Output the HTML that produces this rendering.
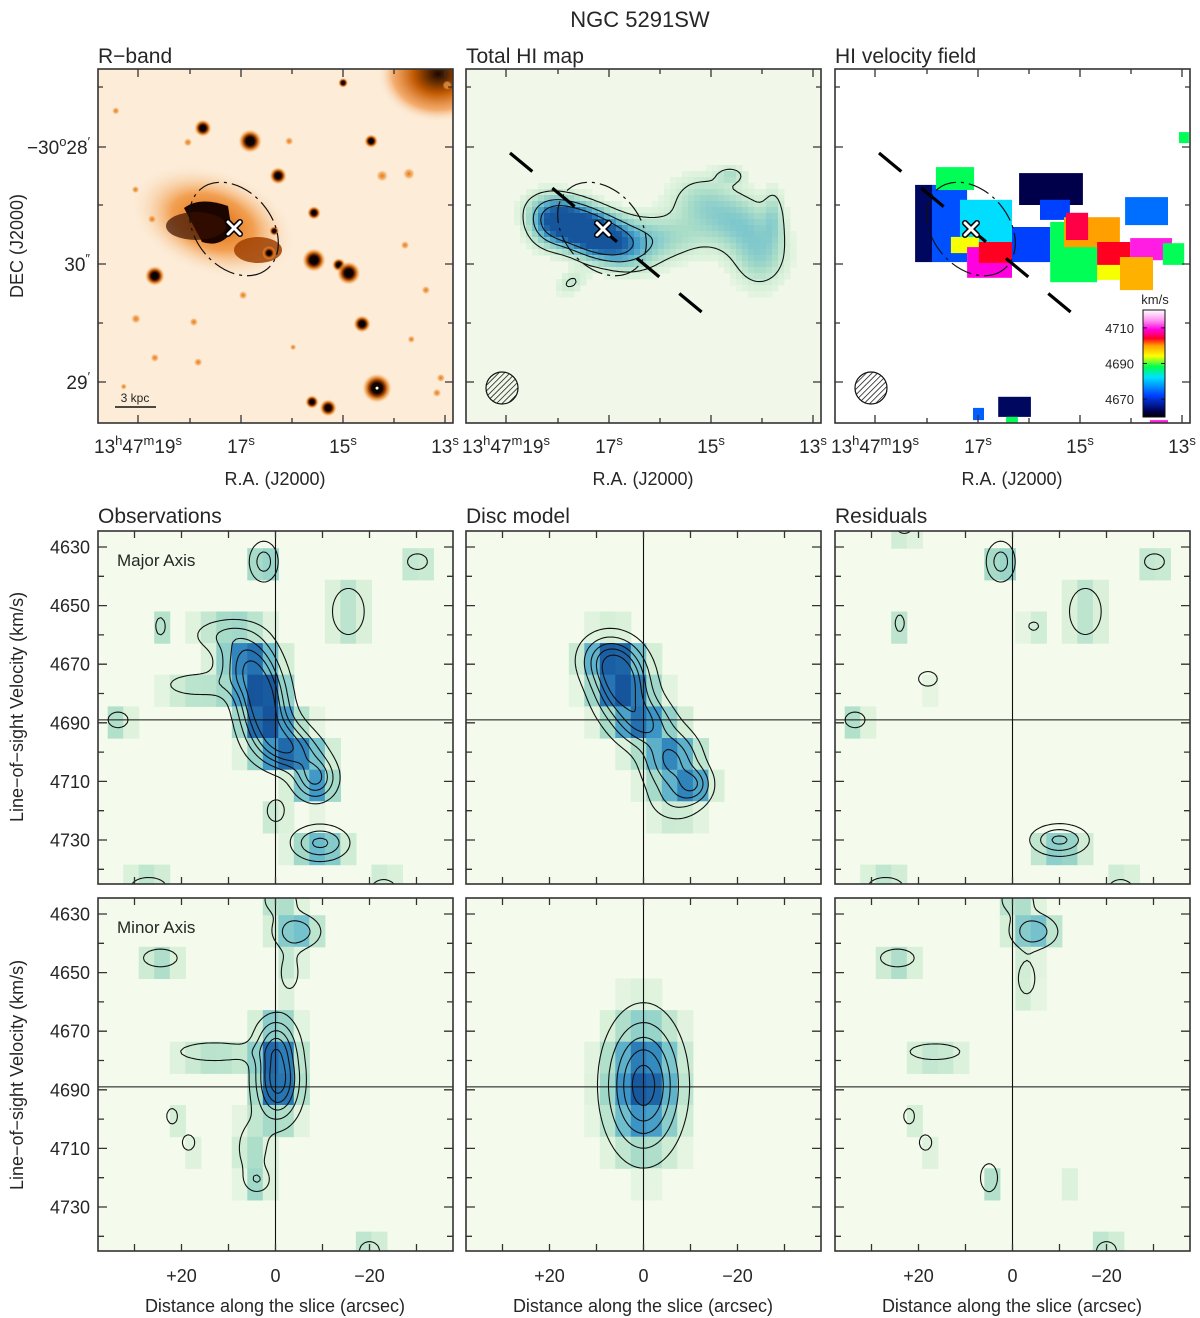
<!DOCTYPE html>
<html>
<head>
<meta charset="utf-8">
<style>
body{margin:0;background:#fff}
svg{display:block}
text{font-family:"Liberation Sans",sans-serif;fill:#262626}
</style>
</head>
<body>
<svg id="fig" width="1200" height="1318" viewBox="0 0 1200 1318" xmlns="http://www.w3.org/2000/svg">
<defs>
  <pattern id="hatch" patternUnits="userSpaceOnUse" width="4" height="4" patternTransform="rotate(45)">
    <line x1="0" y1="0" x2="0" y2="4" stroke="#000" stroke-width="1.4"/>
  </pattern>
  <radialGradient id="star">
    <stop offset="0" stop-color="#000"/>
    <stop offset="0.35" stop-color="#150400"/>
    <stop offset="0.55" stop-color="#a04000"/>
    <stop offset="0.78" stop-color="#f08a20" stop-opacity="0.6"/>
    <stop offset="1" stop-color="#fbe0c0" stop-opacity="0"/>
  </radialGradient>
  <radialGradient id="faint">
    <stop offset="0" stop-color="#e07810"/>
    <stop offset="0.6" stop-color="#f3a050" stop-opacity="0.7"/>
    <stop offset="1" stop-color="#fbe0c0" stop-opacity="0"/>
  </radialGradient>
  <radialGradient id="haze">
    <stop offset="0" stop-color="#d86000"/>
    <stop offset="0.5" stop-color="#f0923a" stop-opacity="0.85"/>
    <stop offset="1" stop-color="#fce6cc" stop-opacity="0"/>
  </radialGradient>
  <radialGradient id="corner">
    <stop offset="0" stop-color="#1a0800"/>
    <stop offset="0.4" stop-color="#c05800"/>
    <stop offset="0.75" stop-color="#f09040" stop-opacity="0.7"/>
    <stop offset="1" stop-color="#fce6cc" stop-opacity="0"/>
  </radialGradient>
  <linearGradient id="cbar" x1="0" y1="1" x2="0" y2="0">
    <stop offset="0" stop-color="#000000"/>
    <stop offset="0.05" stop-color="#00004a"/>
    <stop offset="0.2" stop-color="#0040ff"/>
    <stop offset="0.37" stop-color="#00e0ff"/>
    <stop offset="0.47" stop-color="#00ff50"/>
    <stop offset="0.57" stop-color="#ffff00"/>
    <stop offset="0.667" stop-color="#ffa000"/>
    <stop offset="0.733" stop-color="#ff0020"/>
    <stop offset="0.817" stop-color="#ff00e0"/>
    <stop offset="0.9" stop-color="#ff90f0"/>
    <stop offset="1" stop-color="#ffffff"/>
  </linearGradient>
</defs>

<text x="640" y="27" font-size="22" text-anchor="middle">NGC 5291SW</text>
<text x="98" y="63" font-size="21">R−band</text>
<text x="466" y="63" font-size="21">Total HI map</text>
<text x="835" y="63" font-size="21">HI velocity field</text>
<text x="98" y="523" font-size="21">Observations</text>
<text x="466" y="523" font-size="21">Disc model</text>
<text x="835" y="523" font-size="21">Residuals</text>

<text transform="translate(23,246) rotate(-90)" font-size="18" text-anchor="middle">DEC (J2000)</text>
<text transform="translate(23,707) rotate(-90)" font-size="18" text-anchor="middle">Line−of−sight Velocity (km/s)</text>
<text transform="translate(23,1075) rotate(-90)" font-size="18" text-anchor="middle">Line−of−sight Velocity (km/s)</text>
<text x="275" y="485" font-size="18" text-anchor="middle">R.A. (J2000)</text>
<text x="643" y="485" font-size="18" text-anchor="middle">R.A. (J2000)</text>
<text x="1012" y="485" font-size="18" text-anchor="middle">R.A. (J2000)</text>
<text x="275" y="1312" font-size="18" text-anchor="middle">Distance along the slice (arcsec)</text>
<text x="643" y="1312" font-size="18" text-anchor="middle">Distance along the slice (arcsec)</text>
<text x="1012" y="1312" font-size="18" text-anchor="middle">Distance along the slice (arcsec)</text>
</svg>

<script>
// ---------------- DATA ----------------
const obsMajorBlobs = [
  [2.7,4683,1.0,3.5,8],[6,4670,0.75,4,7],[0,4695,0.6,4,6],[-4,4700,0.55,4,5],
  [-8.5,4709,0.75,3,5],[-9.5,4731,0.6,4,4],[17,4677,0.3,5,3],[11,4660,0.3,5,4],
  [0,4720,0.25,2,4],[2.5,4635,0.45,2.2,5],[-15.5,4652,0.32,3,7],[-30.2,4635,0.3,2,2.5],
  [24.5,4657,0.27,1,3],[33.5,4689,0.3,2,2.5],[27,4746,0.3,3.5,3],[-23,4747,0.25,3,4],[-31,4747,0.22,2,2]
];
const discMajorBlobs = [
  [4.5,4677,1.0,4,8],[8,4668,0.55,4,6],[0,4690,0.65,4,6],[-6,4703,0.75,4,7],[-11,4711,0.5,2.5,4],[-7,4717,0.3,4,5]
];
const resMajorBlobs = [
  [2.5,4635,0.45,2.2,5],[-30.2,4635,0.3,2,2.5],[-15.5,4652,0.32,3,7],[-4.5,4657,0.22,1.5,2],
  [24,4656,0.27,1,3],[18,4675,0.28,2,2.5],[33.5,4689,0.3,2,2.5],[-10,4730,0.6,4,3.5],
  [27,4746,0.3,3.5,3],[-23,4747,0.25,3,4],[-31,4747,0.22,2,2],[23,4624,0.22,2,2]
];
const obsMinorBlobs = [
  [-0.5,4687,1.0,3.2,9],[0,4673,0.45,3,6],[13,4677,0.35,6,2.5],[5,4710,0.3,2.5,7],
  [3.8,4721,0.3,2,3],[-4.5,4636,0.5,3.5,4],[-1,4625,0.3,3,4],[-3,4650,0.25,2,6],
  [24.5,4645,0.35,3,2.5],[22,4699,0.25,1.3,3],[18.5,4708,0.25,1.5,3],[-20,4745,0.3,2,3]
];
const discMinorBlobs = [[0,4688.5,1.0,5.2,15]];
const resMinorBlobs = [
  [-4.5,4636,0.5,3.5,4],[-1,4625,0.3,3,4],[-3,4652,0.25,2,6],[24.5,4645,0.35,3,2.5],
  [16.5,4677,0.3,5,2.5],[22,4699,0.25,1.3,3],[18.5,4708,0.25,1.5,3],[5,4720,0.35,1.5,4],
  [-20,4745,0.3,2,3],[-13,4720,0.15,2,4]
];
const pvContourLevels = [0.17,0.36,0.55,0.72,0.9];
const pvVelTicks = [4630,4640,4650,4660,4670,4680,4690,4700,4710,4720,4730,4740];
const pvVelLabels = [4630,4650,4670,4690,4710,4730];
const pvOffTicks = [30,20,10,0,-10,-20,-30];
const pvOffLabels = ["+20","0","−20"];
const pvOffLabelVals = [20,0,-20];
const systemicVel = 4689;

const hiBlobs = [
  [6.3,0.3,1.0,7,3.5,25],[0,-1.5,0.65,8,4,30],[13,1,0.5,4,4,0],[-11,-2.5,0.4,10,4,0],
  [-25,7,0.3,6,5,0],[-34,2,0.33,6,5,0],[-40,-6.5,0.38,5,6,0],[-32.7,13.7,0.25,2.5,1.5,0],
  [-43.6,3.6,0.24,5,1.8,90],[7.9,-13.7,0.22,3,2,-30]
];
const hiContourLevels = [0.2,0.5,0.8];

const vfCells = [
  [14.2,9.9,11.2,-8.4,4664],[9.9,1.0,11.2,-8.4,4673],[8.9,-0.8,15.7,9.9,4688],
  [2.8,-10.4,7.4,-4.6,4682],[5.1,-2.0,-2.0,-6.1,4694],[1.0,-10.4,-4.6,-12.4,4709],
  [-2.0,-10.4,-3.3,-8.6,4704],[-10.4,-20.1,0.5,-8.4,4672],[-12.2,-28.4,14.2,6.1,4663],
  [-17.5,-25.1,7.4,2.3,4672],[-20.1,-32.0,1.8,-13.5,4688],[-23.6,-37.8,3.0,-4.6,4700],
  [-24.1,-29.7,4.1,-2.8,4705],[-32.0,-40.4,-3.3,-11.2,4704],[-40.4,-51.0,-2.3,-7.9,4710],
  [-37.8,-46.2,-7.1,-15.5,4699],[-32.0,-37.8,-9.1,-12.9,4694],[-48.7,-54.1,-3.6,-9.1,4688],
  [-39.1,-50.0,8.1,1.0,4675],[-52.8,-55.3,24.6,21.8,4688],[-6.9,-15.2,-42.6,-47.7,4664],
  [-0.5,-3.3,-45.4,-48.5,4674],[-8.9,-11.9,-47.7,-49.2,4688],[-45.4,-50.0,-48.5,-49.2,4710]
];
const cbarLabels = [4710,4690,4670];
const cbarMin = 4660, cbarMax = 4720;

const stars = [
  [7.9,25.6,1.4,1],[-4.1,22.3,1.9,1],[-11.2,13.5,1.4,1],[-34.8,22.3,1.1,1],[-27.7,37.1,0.8,1],
  [-20.3,-7.9,1.9,1],[-26.6,-9.1,1.1,1],[-29.1,-11.2,1.9,1],[20.1,-11.9,1.6,1],[-20.3,4.1,1.1,1],
  [-32.5,-24.1,1.4,1],[-36.3,-40.4,2.4,1],[-19.8,-43.9,1.1,1],[-23.9,-45.4,1.4,1],[-10.2,-0.5,0.8,1],
  [-8.9,-6.1,1.1,1],[20.8,2.5,0.8,0],[-43.4,-4.1,0.8,0],[20.1,-32.7,0.8,0],[9.1,-33.8,0.8,0],
  [-37.6,13.5,1.1,0],[-44.4,14.0,1.1,0],[-48.7,-15.5,0.8,0],[-51.5,-41.6,0.8,0],[-52.5,-37.8,0.8,0],
  [-14.0,22.3,0.8,0],[-2.3,-16.8,0.8,0],[11.7,22.0,0.8,0],[24.9,-22.8,0.9,0],[10.2,-23.6,0.8,0],
  [-54.1,36.5,0.8,0],[30,30,0.7,0],[25,10,0.7,0],[-45,-28,0.7,0],[-15,-30,0.6,0],[28,-40,0.6,0]
];

// ---------------- HELPERS ----------------
const NS = 'http://www.w3.org/2000/svg';
const svg = document.getElementById('fig');
const defs = svg.querySelector('defs');
function mk(tag, attrs, parent){
  const e = document.createElementNS(NS, tag);
  for (const k in attrs) e.setAttribute(k, attrs[k]);
  (parent || svg).appendChild(e);
  return e;
}
function lerpColor(stops, t){
  t = Math.max(0, Math.min(1, t));
  for (let i = 1; i < stops.length; i++){
    if (t <= stops[i][0]){
      const a = stops[i-1], b = stops[i];
      const f = (t - a[0]) / (b[0] - a[0]);
      const c = a[1].map((v, k) => Math.round(v + (b[1][k] - v) * f));
      return 'rgb(' + c.join(',') + ')';
    }
  }
  return 'rgb(' + stops[stops.length-1][1].join(',') + ')';
}
const GNBU = [[0,[244,251,236]],[0.15,[214,239,215]],[0.3,[170,221,200]],[0.5,[112,192,205]],[0.7,[60,150,198]],[0.85,[35,112,176]],[1,[22,84,156]]];
const VCM = [[0,[0,0,0]],[0.05,[0,0,74]],[0.2,[0,64,255]],[0.37,[0,224,255]],[0.47,[0,255,80]],[0.57,[255,255,0]],[0.667,[255,160,0]],[0.733,[255,0,32]],[0.817,[255,0,224]],[0.9,[255,144,240]],[1,[255,255,255]]];

function marching(grid, nx, ny, x0, y0, step, L){
  let d = '';
  const f = n => n.toFixed(1);
  for (let j = 0; j < ny - 1; j++){
    for (let i = 0; i < nx - 1; i++){
      const a = grid[j*nx+i], b = grid[j*nx+i+1], c = grid[(j+1)*nx+i+1], e = grid[(j+1)*nx+i];
      const x = x0 + i*step, y = y0 + j*step;
      const p = [];
      if ((a>=L)!==(b>=L)) p.push([x + (L-a)/(b-a)*step, y]);
      if ((b>=L)!==(c>=L)) p.push([x + step, y + (L-b)/(c-b)*step]);
      if ((e>=L)!==(c>=L)) p.push([x + (L-e)/(c-e)*step, y + step]);
      if ((a>=L)!==(e>=L)) p.push([x, y + (L-a)/(e-a)*step]);
      if (p.length >= 2) d += 'M'+f(p[0][0])+' '+f(p[0][1])+'L'+f(p[1][0])+' '+f(p[1][1]);
      if (p.length === 4) d += 'M'+f(p[2][0])+' '+f(p[2][1])+'L'+f(p[3][0])+' '+f(p[3][1]);
    }
  }
  return d;
}

let clipId = 0;
function makeClip(x, y, w, h){
  const id = 'clip' + (clipId++);
  const cp = mk('clipPath', {id: id}, defs);
  mk('rect', {x: x, y: y, width: w, height: h}, cp);
  return 'url(#' + id + ')';
}

function frameAndTicks(g, x, y, w, h, xt, yt){
  let d = '';
  xt.forEach(t => { d += 'M'+t[0]+' '+y+'v'+t[1]+'M'+t[0]+' '+(y+h)+'v'+(-t[1]); });
  yt.forEach(t => { d += 'M'+x+' '+t[0]+'h'+t[1]+'M'+(x+w)+' '+t[0]+'h'+(-t[1]); });
  const tk = mk('path', {d: d, stroke: '#333', 'stroke-width': 1.3, fill: 'none'}, g);
  
  
  const fr = mk('rect', {x: x, y: y, width: w, height: h, fill: 'none', stroke: '#333', 'stroke-width': 1.6}, g);
  
  
}

// text with superscripts: parts = [normal, sup, normal, sup, ...]
function supText(t, parts){
  let raised = false;
  for (let i = 0; i < parts.length; i++){
    const sup = (i % 2 === 1);
    const attrs = {};
    if (sup){ attrs['font-size'] = 13; attrs.dy = -8; raised = true; }
    else if (raised){ attrs.dy = 8; raised = false; }
    const s = mk('tspan', attrs, t);
    s.textContent = parts[i];
  }
}

// ---------------- PV PANELS ----------------
const PW = 355, PH = 353;
const PX_PER_ARCSEC = 4.7, PX_PER_KMS = 2.93, V_TOP = 4624.54;
function pvPanel(name, left, top, blobs, showYLabels, showXLabels, note){
  const g = mk('g', {});
  
  
  const xOf = a => left + 177.5 - a * PX_PER_ARCSEC;
  const yOf = v => top + (v - V_TOP) * PX_PER_KMS;
  const field = (a, v) => {
    let s = 0;
    blobs.forEach(b => { s += b[2] * Math.exp(-0.5*((a-b[0])/b[3])**2 - 0.5*((v-b[1])/b[4])**2); });
    return s;
  };
  const clip = makeClip(left, top, PW, PH);
  const bg = mk('rect', {x: left, y: top, width: PW, height: PH, fill: '#f4fbec'}, g);
  
  
  const cells = mk('g', {'clip-path': clip}, g);
  
  
  const cw = 3.3, ch = 10.8;
  for (let a = 39; a > -40; a -= cw){
    for (let v = 4619.6; v < 4750; v += ch){
      const val = field(a - cw/2, v + ch/2);
      if (val < 0.07) continue;
      const x1 = xOf(a), y1 = yOf(v);
      const r = mk('rect', {x: x1.toFixed(1), y: y1.toFixed(1), width: (cw*PX_PER_ARCSEC+0.6).toFixed(1), height: (ch*PX_PER_KMS+0.6).toFixed(1), fill: lerpColor(GNBU, Math.min(1, val))}, cells);
      
      
    }
  }
  const step = 3, nx = Math.ceil(PW/step)+1, ny = Math.ceil(PH/step)+1;
  const grid = new Float32Array(nx*ny);
  for (let j = 0; j < ny; j++) for (let i = 0; i < nx; i++){
    const px = left + i*step, py = top + j*step;
    grid[j*nx+i] = field((left + 177.5 - px)/PX_PER_ARCSEC, V_TOP + (py - top)/PX_PER_KMS);
  }
  const cg = mk('g', {'clip-path': clip}, g);
  
  
  pvContourLevels.forEach(L => {
    const p = mk('path', {d: marching(grid, nx, ny, left, top, step, L), stroke: '#111', 'stroke-width': 1.1, fill: 'none'}, cg);
    
    
  });
  const vl = mk('line', {x1: xOf(0), y1: top, x2: xOf(0), y2: top+PH, stroke: '#111', 'stroke-width': 1.1}, g);
  
  
  const hl = mk('line', {x1: left, y1: yOf(systemicVel), x2: left+PW, y2: yOf(systemicVel), stroke: '#111', 'stroke-width': 1.1}, g);
  
  
  frameAndTicks(g, left, top, PW, PH,
    pvOffTicks.map(a => [xOf(a), 7]),
    pvVelTicks.map(v => [yOf(v), pvVelLabels.includes(v) ? 9 : 6]));
  if (showYLabels){
    pvVelLabels.forEach(v => {
      const t = mk('text', {x: 90, y: yOf(v)+6.5, 'font-size': 18, 'text-anchor': 'end'}, g);
      t.textContent = v;
      
      
    });
  }
  if (showXLabels){
    pvOffLabelVals.forEach((a, k) => {
      const t = mk('text', {x: xOf(a), y: 1282, 'font-size': 18, 'text-anchor': 'middle'}, g);
      t.textContent = pvOffLabels[k];
      
      
    });
  }
  if (note){
    const t = mk('text', {x: left+19, y: top+35, 'font-size': 17}, g);
    t.textContent = note;
    
    
  }
}
pvPanel('observations-major-panel', 98, 531, obsMajorBlobs, true, false, 'Major Axis');
pvPanel('disc-model-major-panel', 466, 531, discMajorBlobs, false, false, null);
pvPanel('residuals-major-panel', 835, 531, resMajorBlobs, false, false, null);
pvPanel('observations-minor-panel', 98, 898, obsMinorBlobs, true, true, 'Minor Axis');
pvPanel('disc-model-minor-panel', 466, 898, discMinorBlobs, false, true, null);
pvPanel('residuals-minor-panel', 835, 898, resMinorBlobs, false, true, null);

// ---------------- TOP PANELS ----------------
const TW = 355, TH = 354, TTOP = 69;
const TLEFTS = [98, 466, 835];
const PX_PER_SKY = 3.94;
const CX_OFF = 136, CY = 229;
function skyX(left, ra){ return left + CX_OFF - ra * PX_PER_SKY; }
function skyY(dec){ return CY - dec * PX_PER_SKY; }

function topTicks(g, left){
  const xt = [[left+40,8],[left+92,5],[left+143,8],[left+194,5],[left+245,8],[left+296,5],[left+347,8]];
  const yt = [[87,5],[147,8],[205,5],[264,8],[323,5],[382,8]];
  frameAndTicks(g, left, TTOP, TW, TH, xt, yt);
  const labs = [['13','h','47','m','19','s'],['17','s'],['15','s'],['13','s']];
  [40,143,245,347].forEach((dx, k) => {
    const t = mk('text', {x: left+dx, y: 453, 'font-size': 19, 'text-anchor': 'middle'}, g);
    
    
    supText(t, labs[k]);
  });
}
function dashedPA(g, left){
  const l = mk('line', {x1: left+44, y1: 153, x2: left+250, y2: 324, stroke: '#000', 'stroke-width': 3.2, 'stroke-dasharray': '29 26'}, g);
  
  
}
function opticalEllipse(g, left){
  const e = mk('ellipse', {cx: left+136, cy: 229, rx: 52, ry: 38, transform: 'rotate(50 '+(left+136)+' 229)', fill: 'none', stroke: '#111', 'stroke-width': 1.2, 'stroke-dasharray': '22 5 3 5'}, g);
  
  
}
function centreCross(g, cx, cy){
  const d = 'M'+(cx-6)+' '+(cy-6)+'L'+(cx+6)+' '+(cy+6)+'M'+(cx+6)+' '+(cy-6)+'L'+(cx-6)+' '+(cy+6);
  mk('path', {d: d, stroke: '#000', 'stroke-width': 6, 'stroke-linecap': 'round'}, g);
  const p = mk('path', {d: d, stroke: '#fff', 'stroke-width': 3, 'stroke-linecap': 'round'}, g);
  
  
}
function beam(g, left){
  const c = mk('circle', {cx: left+36, cy: 388, r: 16, fill: 'url(#hatch)', stroke: '#111', 'stroke-width': 1.2}, g);
  
  
}

// R-band
(function(){
  const left = TLEFTS[0];
  const g = mk('g', {});
  
  
  const clip = makeClip(left, TTOP, TW, TH);
  const img = mk('g', {'clip-path': clip}, g);
  
  
  mk('rect', {x: left, y: TTOP, width: TW, height: TH, fill: '#fcecd8'}, img);
  mk('ellipse', {cx: left+340, cy: TTOP+5, rx: 60, ry: 48, fill: 'url(#corner)'}, img);
  mk('ellipse', {cx: left+115, cy: 222, rx: 85, ry: 52, fill: 'url(#haze)', transform: 'rotate(20 '+(left+115)+' 222)'}, img);
  const core = mk('path', {d: 'M'+(left+86)+' 208 Q'+(left+102)+' 196 '+(left+130)+' 206 L'+(left+134)+' 232 Q'+(left+122)+' 248 '+(left+104)+' 242 Z', fill: '#1a0500'}, img);
  
  
  mk('ellipse', {cx: left+160, cy: 250, rx: 24, ry: 13, fill: '#a04000', opacity: 0.85}, img);
  mk('ellipse', {cx: left+98, cy: 226, rx: 30, ry: 14, fill: '#3a1000', opacity: 0.7}, img);
  stars.forEach(s => {
    const c = mk('circle', {cx: skyX(left, s[0]), cy: skyY(s[1]), r: (s[2]*PX_PER_SKY*(s[3]?1.6:1.4)).toFixed(1), fill: s[3] ? 'url(#star)' : 'url(#faint)'}, img);
    
    
  });
  mk('circle', {cx: skyX(left,-36.3), cy: skyY(-40.4), r: 1.5, fill: '#fff'}, img);
  opticalEllipse(g, left);
  centreCross(g, left+136, 228);
  const sb = mk('line', {x1: left+17, y1: 407, x2: left+58, y2: 407, stroke: '#111', 'stroke-width': 1.5}, g);
  
  
  const st = mk('text', {x: left+37, y: 402, 'font-size': 12, 'text-anchor': 'middle'}, g);
  st.textContent = '3 kpc';
  
  
  topTicks(g, left);
  const ylabs = [[147, ['−30','o','28','′']], [264, ['30','″']], [382, ['29','′']]];
  ylabs.forEach(L => {
    const t = mk('text', {x: 90, y: L[0]+7, 'font-size': 19, 'text-anchor': 'end'}, g);
    
    
    supText(t, L[1]);
  });
})();

// HI map
(function(){
  const left = TLEFTS[1];
  const g = mk('g', {});
  
  
  const clip = makeClip(left, TTOP, TW, TH);
  const bg = mk('rect', {x: left, y: TTOP, width: TW, height: TH, fill: '#f1f8e9'}, g);
  
  
  const cx = left + CX_OFF;
  const field = (px, py) => {
    let s = 0;
    hiBlobs.forEach(b => {
      const bx = cx - b[0]*PX_PER_SKY, by = CY - b[1]*PX_PER_SKY;
      const th = b[5]*Math.PI/180, dx = px-bx, dy = py-by;
      const u = dx*Math.cos(th) + dy*Math.sin(th), w = -dx*Math.sin(th) + dy*Math.cos(th);
      s += b[2]*Math.exp(-0.5*(u/(b[3]*PX_PER_SKY))**2 - 0.5*(w/(b[4]*PX_PER_SKY))**2);
    });
    return s;
  };
  const cells = mk('g', {'clip-path': clip}, g);
  
  
  const cs = 6;
  for (let y = TTOP; y < TTOP+TH; y += cs){
    for (let x = left; x < left+TW; x += cs){
      const val = field(x+cs/2, y+cs/2);
      if (val < 0.08) continue;
      const r = mk('rect', {x: x, y: y, width: cs+0.5, height: cs+0.5, fill: lerpColor(GNBU, Math.min(1, val*0.95))}, cells);
      
      
    }
  }
  const step = 3, nx = Math.ceil(TW/step)+1, ny = Math.ceil(TH/step)+1;
  const grid = new Float32Array(nx*ny);
  for (let j = 0; j < ny; j++) for (let i = 0; i < nx; i++) grid[j*nx+i] = field(left+i*step, TTOP+j*step);
  const cg = mk('g', {'clip-path': clip}, g);
  
  
  hiContourLevels.forEach(L => {
    const p = mk('path', {d: marching(grid, nx, ny, left, TTOP, step, L), stroke: '#111', 'stroke-width': 1.1, fill: 'none'}, cg);
    
    
  });
  dashedPA(g, left);
  opticalEllipse(g, left);
  centreCross(g, left+137, 229);
  beam(g, left);
  topTicks(g, left);
})();

// Velocity field
(function(){
  const left = TLEFTS[2];
  const g = mk('g', {});
  
  
  const clip = makeClip(left, TTOP, TW, TH);
  mk('rect', {x: left, y: TTOP, width: TW, height: TH, fill: '#fff'}, g);
  const cells = mk('g', {'clip-path': clip}, g);
  
  
  vfCells.forEach(c => {
    const x1 = skyX(left, c[0]), x2 = skyX(left, c[1]), y1 = skyY(c[2]), y2 = skyY(c[3]);
    const r = mk('rect', {x: x1.toFixed(1), y: y1.toFixed(1), width: (x2-x1).toFixed(1), height: (y2-y1).toFixed(1), fill: lerpColor(VCM, (c[4]-cbarMin)/(cbarMax-cbarMin))}, cells);
    
    
  });
  dashedPA(g, left);
  opticalEllipse(g, left);
  centreCross(g, left+136, 229);
  beam(g, left);
  const cbY = v => 417 - (v - cbarMin) / (cbarMax - cbarMin) * 107;
  const cb = mk('rect', {x: left+308, y: 310, width: 22, height: 107, fill: 'url(#cbar)', stroke: '#111', 'stroke-width': 1}, g);
  
  
  let td = '';
  cbarLabels.forEach(v => {
    td += 'M'+(left+308)+' '+cbY(v)+'h4M'+(left+330)+' '+cbY(v)+'h-4';
    const t = mk('text', {x: left+299, y: cbY(v)+5, 'font-size': 13, 'text-anchor': 'end'}, g);
    t.textContent = v;
    
    
  });
  mk('path', {d: td, stroke: '#111', 'stroke-width': 1}, g);
  const u = mk('text', {x: left+320, y: 304, 'font-size': 13, 'text-anchor': 'middle'}, g);
  u.textContent = 'km/s';
  
  
  topTicks(g, left);
})();
</script>
</body>
</html>
